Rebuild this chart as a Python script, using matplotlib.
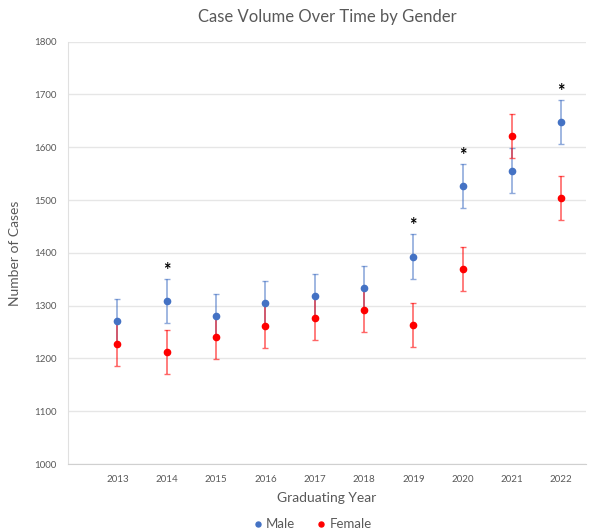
import numpy as np
import matplotlib.pyplot as plt

plt.rcParams['font.family'] = ['Lato', 'DejaVu Sans']

# data
years = [2013, 2014, 2015, 2016, 2017, 2018, 2019, 2020, 2021, 2022]
male = [1270, 1309, 1280, 1305, 1318, 1333, 1393, 1527, 1556, 1648]
female = [1228, 1212, 1240, 1262, 1277, 1292, 1263, 1370, 1622, 1504]
male_err = [42, 42, 42, 42, 42, 42, 42, 42, 42, 42]
female_err = [42, 42, 42, 42, 42, 42, 42, 42, 42, 42]
signif_years = [2014, 2019, 2020, 2022]

BLUE = '#4472C4'
RED = '#FF0000'
GRAY = '#595959'

fig = plt.figure(figsize=(6.03, 5.3), dpi=100)
ax = fig.add_axes([0.1128, 0.1245, 0.859, 0.7968])

ax.errorbar(years, male, yerr=male_err, fmt='none', ecolor=BLUE, alpha=0.6,
            elinewidth=1.2, capsize=2.5, capthick=1.0, zorder=2)
ax.errorbar(years, female, yerr=female_err, fmt='none', ecolor=RED, alpha=0.6,
            elinewidth=1.2, capsize=2.5, capthick=1.0, zorder=2)
ax.plot(years, male, 'o', color=BLUE, ms=4.5, label='Male', zorder=3)
ax.plot(years, female, 'o', color=RED, ms=4.5, label='Female', zorder=3)

# significance markers
for yr in signif_years:
    i = years.index(yr)
    ax.text(yr, male[i] + male_err[i], '*', ha='center', va='bottom',
            fontsize=13, color='black', fontweight='bold')

ax.set_xlim(2012, 2022.5)
ax.set_ylim(1000, 1800)
ax.set_xticks(years)
ax.set_yticks(np.arange(1000, 1801, 100))
ax.tick_params(axis='both', length=0, labelsize=7, labelcolor=GRAY, pad=8)
ax.grid(axis='y', color='#E6E6E6', lw=1)
ax.set_axisbelow(True)
for s in ['top', 'right']:
    ax.spines[s].set_visible(False)
ax.spines['left'].set_color('#E0E0E0')
ax.spines['bottom'].set_color('#D0D0D0')

ax.set_title('Case Volume Over Time by Gender', fontsize=12, color=GRAY, pad=14)
ax.set_xlabel('Graduating Year', fontsize=10, color=GRAY, labelpad=6)
ax.set_ylabel('Number of Cases', fontsize=10, color=GRAY, labelpad=10)

ax.legend(loc='upper center', bbox_to_anchor=(0.47, -0.1), ncol=2, frameon=False,
          fontsize=9.5, labelcolor=GRAY, handletextpad=0.1, columnspacing=1.5,
          handlelength=1, markerscale=0.8)

fig.savefig('out.png', dpi=100)
